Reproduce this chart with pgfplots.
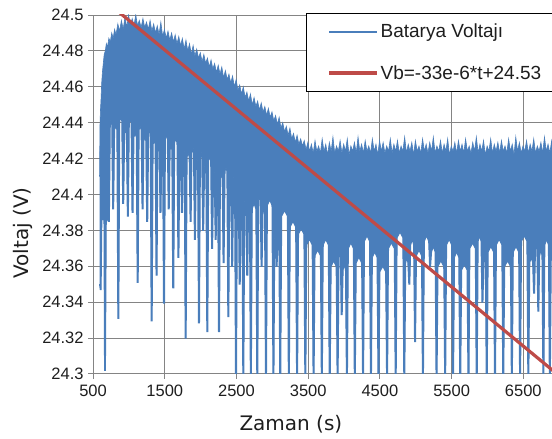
\documentclass[border=0pt]{standalone}
\usepackage{pgfplots}
\pgfplotsset{compat=1.18}
\usepgfplotslibrary{fillbetween}
\usepackage{fontspec}
\setmainfont{Liberation Sans}
\newfontfamily\labelfont{DejaVu Sans}
\definecolor{vblue}{HTML}{4A7EBB}
\definecolor{vred}{HTML}{BE4B48}
\definecolor{gridgray}{HTML}{848484}
\definecolor{txt}{HTML}{1E1E1E}
\begin{document}
\begin{tikzpicture}
\begin{axis}[
  scale only axis, width=459pt, height=359pt,
  xmin=500, xmax=6900, ymin=24.3, ymax=24.5,
  xtick={500,1500,2500,3500,4500,5500,6500},
  xticklabels={500,1500,2500,3500,4500,5500,6500},
  ytick={24.3,24.32,24.34,24.36,24.38,24.4,24.42,24.44,24.46,24.48,24.5},
  yticklabels={24.3,24.32,24.34,24.36,24.38,24.4,24.42,24.44,24.46,24.48,24.5},
  /pgf/number format/assume math mode=true,
  axis x line*=bottom, axis y line*=left,
  axis line style={gridgray, line width=0.9pt, -},
  grid=major, major grid style={gridgray, line width=0.9pt},
  tick align=outside, major tick length=5pt,
  tick style={gridgray, line width=0.9pt},
  ticklabel style={font=\fontsize{16.5}{19}\selectfont, text=txt},
  xticklabel style={yshift=-3pt},
  yticklabel style={xshift=-1pt},
  xlabel={Zaman (s)}, ylabel={Voltaj (V)},
  xlabel style={at={(axis description cs:0.431,0)}, anchor=center, yshift=-50pt, font=\labelfont\fontsize{20}{24}\selectfont, text=txt},
  ylabel style={at={(axis description cs:0,0.393)}, anchor=center, yshift=70pt, font=\labelfont\fontsize{20}{24}\selectfont, text=txt},
  legend image code/.code={\draw[#1] (0pt,0pt) -- (48pt,0pt);},
  legend style={at={(rel axis cs:0.464,1.0064)}, anchor=north west, draw=black, line width=0.9pt,
    fill=white, inner xsep=21pt, inner ysep=10pt, row sep=24pt, column sep=1pt,
    nodes={inner sep=1pt}, font=\fontsize{19}{23}\selectfont, text=txt, cells={anchor=west}},
]
\addplot[name path=top, vblue, line width=0.6pt, forget plot] coordinates {
(590,24.410)(596,24.438)(603,24.447)(610,24.452)(620,24.462)(630,24.468)(640,24.472)(655,24.478)(670,24.480)(685,24.484)(700,24.482)(720,24.487)(740,24.485)(760,24.490)(780,24.487)(800,24.492)(820,24.489)(845,24.495)(870,24.491)(895,24.497)(920,24.492)(945,24.499)(970,24.493)(995,24.500)(1020,24.494)(1045,24.498)(1070,24.494)(1095,24.500)(1120,24.494)(1145,24.497)(1170,24.493)(1195,24.498)(1220,24.493)(1245,24.496)(1270,24.492)(1295,24.497)(1320,24.491)(1345,24.495)(1370,24.490)(1395,24.494)(1420,24.489)(1445,24.496)(1470,24.488)(1495,24.492)(1520,24.487)(1545,24.491)(1570,24.486)(1595,24.490)(1620,24.485)(1645,24.489)(1670,24.484)(1695,24.488)(1720,24.483)(1745,24.487)(1770,24.481)(1795,24.486)(1820,24.480)(1845,24.484)(1870,24.478)(1895,24.483)(1920,24.477)(1945,24.481)(1970,24.476)(1995,24.479)(2020,24.474)(2045,24.478)(2070,24.473)(2095,24.476)(2120,24.471)(2145,24.475)(2170,24.470)(2195,24.473)(2220,24.468)(2245,24.472)(2270,24.467)(2295,24.471)(2320,24.465)(2345,24.469)(2370,24.464)(2395,24.467)(2420,24.462)(2445,24.466)(2470,24.460)(2495,24.464)(2520,24.458)(2545,24.461)(2570,24.456)(2595,24.460)(2620,24.454)(2645,24.457)(2670,24.452)(2695,24.456)(2720,24.450)(2745,24.454)(2770,24.449)(2795,24.452)(2820,24.447)(2845,24.451)(2870,24.446)(2895,24.449)(2920,24.444)(2945,24.448)(2970,24.443)(2995,24.446)(3020,24.441)(3045,24.444)(3070,24.439)(3095,24.443)(3120,24.437)(3145,24.440)(3170,24.435)(3195,24.438)(3220,24.433)(3245,24.437)(3270,24.431)(3295,24.434)(3320,24.429)(3345,24.433)(3370,24.428)(3395,24.431)(3420,24.427)(3445,24.430)(3470,24.425)
(3495,24.429)(3520,24.424)(3545,24.428)(3570,24.423)(3595,24.430)(3620,24.424)(3645,24.427)(3670,24.423)(3695,24.431)(3720,24.424)(3745,24.428)(3770,24.422)(3795,24.429)(3820,24.424)(3845,24.432)(3870,24.423)(3895,24.427)(3920,24.424)(3945,24.430)(3970,24.423)(3995,24.428)(4020,24.424)(4045,24.431)(4070,24.422)(4095,24.427)(4120,24.424)(4145,24.429)(4170,24.423)(4195,24.432)(4220,24.424)(4245,24.428)(4270,24.423)(4295,24.430)(4320,24.424)(4345,24.427)(4370,24.423)(4395,24.431)(4420,24.424)(4445,24.428)(4470,24.422)(4495,24.430)(4520,24.424)(4545,24.429)(4570,24.423)(4595,24.427)(4620,24.424)(4645,24.431)(4670,24.423)(4695,24.428)(4720,24.424)(4745,24.430)(4770,24.423)(4795,24.427)(4820,24.424)(4845,24.432)(4870,24.423)(4895,24.428)(4920,24.424)(4945,24.429)(4970,24.422)(4995,24.430)(5020,24.424)(5045,24.427)(5070,24.423)(5095,24.431)(5120,24.424)(5145,24.428)(5170,24.423)(5195,24.429)(5220,24.424)(5245,24.432)(5270,24.423)(5295,24.427)(5320,24.424)(5345,24.430)(5370,24.423)(5395,24.428)(5420,24.424)(5445,24.431)(5470,24.422)(5495,24.427)(5520,24.424)(5545,24.429)(5570,24.423)(5595,24.430)(5620,24.424)(5645,24.428)(5670,24.423)(5695,24.431)(5720,24.424)(5745,24.427)(5770,24.423)(5795,24.429)(5820,24.424)(5845,24.432)(5870,24.423)(5895,24.428)(5920,24.424)(5945,24.430)(5970,24.422)(5995,24.427)(6020,24.424)(6045,24.431)(6070,24.423)(6095,24.428)(6120,24.424)(6145,24.429)(6170,24.423)(6195,24.430)(6220,24.424)(6245,24.427)(6270,24.423)(6295,24.431)(6320,24.424)(6345,24.428)(6370,24.422)(6395,24.432)(6420,24.424)(6445,24.429)(6470,24.423)(6495,24.427)(6520,24.424)(6545,24.430)(6570,24.423)(6595,24.428)(6620,24.424)(6645,24.431)(6670,24.423)(6695,24.427)(6720,24.424)(6745,24.429)(6770,24.423)(6795,24.432)(6820,24.424)(6845,24.428)(6870,24.423)(6895,24.430)(6920,24.424)
};
\addplot[name path=bot, vblue, line width=1pt, forget plot] coordinates {
(590,24.350)(600,24.347)(612,24.347)(622,24.386)(652,24.386)(660,24.302)(672,24.302)(684,24.386)(700,24.386)(713,24.385)(727,24.385)(740,24.440)(750,24.442)
(760,24.440)(773,24.392)(787,24.392)(800,24.436)(816,24.438)
(832,24.436)(845,24.331)(859,24.331)(872,24.441)(886,24.443)
(900,24.441)(913,24.395)(927,24.395)(940,24.434)(952,24.436)
(965,24.434)(978,24.388)(992,24.388)(1005,24.440)(1018,24.442)
(1030,24.440)(1043,24.390)(1057,24.390)(1070,24.432)(1086,24.434)
(1102,24.432)(1115,24.351)(1129,24.351)(1142,24.436)(1156,24.438)
(1170,24.436)(1183,24.392)(1197,24.392)(1210,24.430)(1222,24.432)
(1235,24.430)(1248,24.385)(1262,24.385)(1275,24.434)(1286,24.436)
(1297,24.434)(1310,24.3295)(1324,24.3295)(1337,24.428)(1351,24.430)
(1365,24.428)(1378,24.355)(1392,24.355)(1405,24.433)(1412,24.435)
(1420,24.433)(1433,24.390)(1447,24.390)(1460,24.427)(1464,24.429)
(1469,24.427)(1482,24.3395)(1496,24.3395)(1509,24.431)(1522,24.433)
(1535,24.431)(1548,24.392)(1562,24.392)(1575,24.425)(1586,24.427)
(1598,24.425)(1611,24.348)(1625,24.348)(1638,24.429)(1654,24.431)
(1670,24.429)(1683,24.365)(1697,24.365)(1710,24.423)(1715,24.425)
(1720,24.423)(1733,24.390)(1747,24.390)(1760,24.427)(1765,24.429)
(1771,24.427)(1784,24.320)(1798,24.320)(1811,24.421)(1825,24.423)
(1840,24.421)(1853,24.385)(1867,24.385)(1880,24.425)(1890,24.427)
(1900,24.425)(1913,24.375)(1927,24.375)(1940,24.418)(1948,24.420)
(1957,24.418)(1970,24.3285)(1984,24.3285)(1997,24.422)(2006,24.424)
(2015,24.422)(2028,24.380)(2042,24.380)(2055,24.415)(2064,24.417)
(2073,24.415)(2086,24.3236)(2100,24.3236)(2113,24.419)(2126,24.421)
(2140,24.419)(2153,24.370)(2167,24.370)(2180,24.412)(2185,24.414)
(2190,24.412)(2203,24.375)(2217,24.375)(2230,24.416)(2233,24.418)
(2236,24.416)(2249,24.3236)(2263,24.3236)(2276,24.409)(2288,24.411)
(2300,24.409)(2313,24.362)(2327,24.362)(2340,24.413)(2353,24.415)
(2366,24.413)(2379,24.332)(2393,24.332)(2406,24.405)(2413,24.407)
(2420,24.405)(2433,24.360)(2447,24.360)(2460,24.409)(2466,24.411)
(2473,24.409)(2486,24.298)(2500,24.298)(2513,24.400)(2519,24.402)
(2525,24.400)(2538,24.350)(2552,24.350)(2565,24.404)(2570,24.406)
(2575,24.404)(2588,24.298)(2602,24.298)(2615,24.396)(2622,24.398)
(2630,24.396)(2643,24.355)(2657,24.355)(2670,24.400)(2675,24.402)
(2680,24.400)(2693,24.298)(2707,24.298)(2720,24.392)(2745,24.395)
(2770,24.392)(2783,24.298)(2797,24.298)(2810,24.397)(2820,24.399)
(2830,24.397)(2843,24.360)(2857,24.360)(2870,24.390)(2880,24.392)
(2891,24.390)(2904,24.298)(2918,24.298)(2931,24.394)(2963,24.397)
(2995,24.394)(3008,24.298)(3022,24.298)(3035,24.386)(3037,24.388)
(3040,24.386)(3053,24.360)(3067,24.360)(3080,24.384)(3085,24.386)
(3090,24.384)(3103,24.298)(3117,24.298)(3130,24.388)(3170,24.391)
(3210,24.388)(3223,24.298)(3237,24.298)(3250,24.382)(3288,24.385)
(3325,24.382)(3338,24.298)(3352,24.298)(3365,24.378)(3402,24.381)
(3440,24.378)(3453,24.298)(3467,24.298)(3480,24.372)(3518,24.375)
(3555,24.372)(3568,24.298)(3582,24.298)(3595,24.366)(3632,24.369)
(3670,24.366)(3683,24.298)(3697,24.298)(3710,24.372)(3745,24.375)
(3780,24.372)(3793,24.298)(3807,24.298)(3820,24.360)(3855,24.363)
(3890,24.360)(3903,24.298)(3917,24.298)(3930,24.368)(3938,24.370)
(3947,24.368)(3960,24.333)(3974,24.333)(3987,24.358)(4003,24.361)
(4020,24.358)(4033,24.298)(4047,24.298)(4060,24.370)(4095,24.373)
(4130,24.370)(4143,24.298)(4157,24.298)(4170,24.362)(4207,24.365)
(4245,24.362)(4258,24.298)(4272,24.298)(4285,24.374)(4320,24.377)
(4355,24.374)(4368,24.298)(4382,24.298)(4395,24.365)(4428,24.368)
(4460,24.365)(4473,24.298)(4487,24.298)(4500,24.357)(4540,24.360)
(4580,24.357)(4593,24.298)(4607,24.298)(4620,24.370)(4660,24.373)
(4700,24.370)(4713,24.298)(4727,24.298)(4740,24.376)(4780,24.379)
(4820,24.376)(4833,24.298)(4847,24.298)(4860,24.362)(4875,24.365)
(4890,24.362)(4903,24.350)(4917,24.350)(4930,24.372)(4950,24.375)
(4970,24.372)(4983,24.318)(4997,24.318)(5010,24.366)(5045,24.369)
(5080,24.366)(5093,24.298)(5107,24.298)(5120,24.374)(5150,24.377)
(5180,24.374)(5193,24.360)(5207,24.360)(5220,24.368)(5245,24.371)
(5270,24.368)(5283,24.298)(5297,24.298)(5310,24.360)(5350,24.363)
(5390,24.360)(5403,24.298)(5417,24.298)(5430,24.372)(5465,24.375)
(5500,24.372)(5513,24.298)(5527,24.298)(5540,24.365)(5570,24.368)
(5600,24.365)(5613,24.298)(5627,24.298)(5640,24.358)(5678,24.361)
(5715,24.358)(5728,24.298)(5742,24.298)(5755,24.370)(5793,24.373)
(5830,24.370)(5843,24.298)(5857,24.298)(5870,24.374)(5890,24.377)
(5910,24.374)(5923,24.340)(5937,24.340)(5950,24.362)(5960,24.365)
(5970,24.362)(5983,24.298)(5997,24.298)(6010,24.368)(6048,24.371)
(6085,24.368)(6098,24.298)(6112,24.298)(6125,24.372)(6163,24.375)
(6200,24.372)(6213,24.298)(6227,24.298)(6240,24.360)(6280,24.363)
(6320,24.360)(6333,24.298)(6347,24.298)(6360,24.368)(6398,24.371)
(6435,24.368)(6448,24.298)(6462,24.298)(6475,24.374)(6513,24.377)
(6550,24.374)(6563,24.298)(6577,24.298)(6590,24.362)(6610,24.365)
(6630,24.362)(6643,24.345)(6657,24.345)(6670,24.370)(6680,24.372)
(6689,24.370)(6702,24.335)(6716,24.335)(6729,24.366)(6745,24.369)
(6760,24.366)(6773,24.298)(6787,24.298)(6800,24.372)(6825,24.375)
(6850,24.372)(6863,24.298)(6877,24.298)(6890,24.366)(6920,24.366)
};
\addplot[vblue, forget plot] fill between[of=top and bot];
\addlegendimage{vblue, line width=2.3pt}
\addlegendentry{\makebox[180pt][l]{Batarya Voltajı}}
\addplot[vred, line width=3.2pt] coordinates {(500,24.5135)(7000,24.299)};
\addlegendentry{\makebox[180pt][l]{Vb=-33e-6*t+24.53}}
\coordinate (ll) at (rel axis cs:0,0);
\coordinate (ur) at (rel axis cs:1,1);
\end{axis}
\pgfresetboundingbox
\path[use as bounding box] ([xshift=-93.1pt,yshift=-65pt]ll) rectangle ([yshift=15pt]ur);
\end{tikzpicture}
\end{document}
